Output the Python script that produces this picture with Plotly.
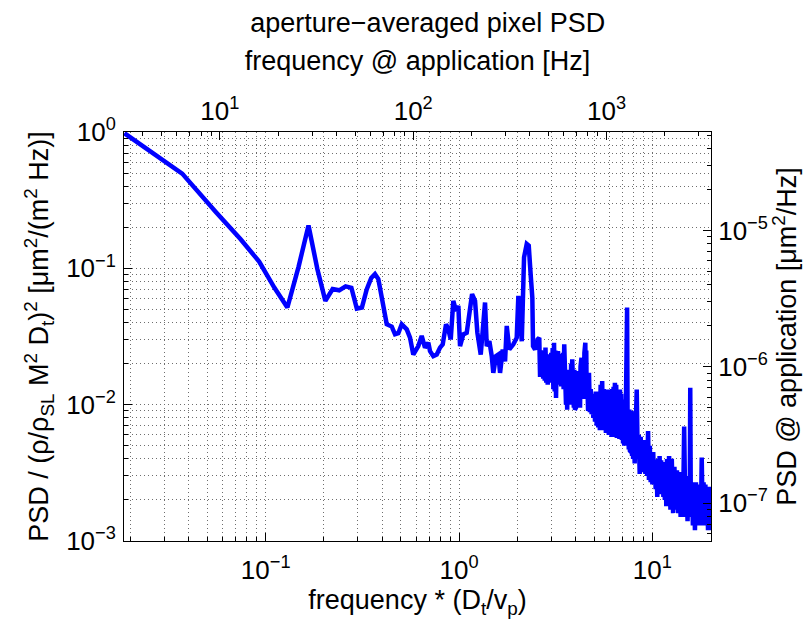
import math
import plotly.graph_objects as go

# ---- data (normalised frequency, normalised PSD) ----
freq_low = [
    0.0186, 0.037, 0.0555, 0.074, 0.0925, 0.111, 0.1295, 0.148, 0.1665, 0.185,
    0.2035, 0.222, 0.24, 0.259, 0.2775, 0.296, 0.3145, 0.333, 0.3515, 0.3675,
    0.3825, 0.398, 0.4227, 0.4487, 0.4667, 0.4853, 0.5053, 0.5364, 0.5578, 0.58,
    0.6158, 0.641, 0.6668, 0.6938, 0.7079, 0.7363, 0.7668, 0.7976, 0.8235, 0.8564,
    0.880, 0.906, 0.934, 0.965, 0.992, 1.012, 1.052, 1.096, 1.131, 1.168,
    1.21, 1.244, 1.295, 1.326, 1.363, 1.391, 1.435, 1.476, 1.504, 1.554,
    1.597, 1.630, 1.683, 1.73, 1.765, 1.82, 1.909, 1.988, 2.027, 2.111,
    2.169, 2.24, 2.294, 2.349, 2.394, 2.414, 2.473, 2.55,
]
psd_low = [
    0.98, 0.495, 0.257, 0.164, 0.112, 0.072, 0.0516, 0.103, 0.206, 0.099,
    0.0577, 0.0704, 0.069, 0.0737, 0.072, 0.0507, 0.0516, 0.070, 0.085, 0.0908,
    0.0834, 0.0628, 0.0389, 0.0374, 0.0328, 0.0334, 0.0389, 0.0357, 0.031, 0.0233,
    0.0269, 0.0319, 0.0262, 0.0285, 0.0247, 0.0227, 0.0233, 0.0262, 0.0277, 0.0389,
    0.0357, 0.0301, 0.0577, 0.0487, 0.053, 0.0269, 0.0328, 0.0337, 0.0487, 0.0647,
    0.0577, 0.0337, 0.0233, 0.040, 0.0561, 0.0269, 0.0292, 0.0227, 0.0171, 0.0227,
    0.0233, 0.0171, 0.0254, 0.0208, 0.0378, 0.0254, 0.0277, 0.031, 0.0628, 0.0292,
    0.1205, 0.151, 0.1468, 0.0882, 0.0611, 0.0269, 0.0254, 0.0301,
]
# dense, noisy band 2.6 - 4.6
freq_band1 = [
    2.600, 2.625, 2.650, 2.675, 2.700, 2.725, 2.750, 2.775, 2.800, 2.825,
    2.850, 2.875, 2.900, 2.925, 2.950, 2.975, 3.000, 3.025, 3.050, 3.075,
    3.100, 3.125, 3.150, 3.175, 3.200, 3.225, 3.250, 3.275, 3.300, 3.325,
    3.350, 3.375, 3.400, 3.425, 3.450, 3.475, 3.500, 3.525, 3.550, 3.575,
    3.600, 3.625, 3.650, 3.675, 3.700, 3.725, 3.750, 3.775, 3.800, 3.825,
    3.850, 3.875, 3.900, 3.925, 3.950, 3.975, 4.000, 4.025, 4.050, 4.075,
    4.100, 4.125, 4.150, 4.175, 4.200, 4.225, 4.250, 4.275, 4.300, 4.325,
    4.350, 4.375, 4.400, 4.425, 4.450, 4.475, 4.500, 4.525, 4.550, 4.575,
    4.600,
]
psd_band1 = [
    0.0310, 0.0160, 0.0250, 0.0162, 0.0245, 0.0155, 0.0240, 0.0150, 0.0262, 0.0145,
    0.0230, 0.0140, 0.0234, 0.0150, 0.0225, 0.0145, 0.0240, 0.0145, 0.0260, 0.0130,
    0.0285, 0.0125, 0.0250, 0.0112, 0.0230, 0.0140, 0.0247, 0.0150, 0.0235, 0.0140,
    0.0230, 0.0136, 0.0225, 0.0140, 0.0240, 0.0130, 0.0277, 0.0120, 0.0230, 0.0100,
    0.0180, 0.0092, 0.0180, 0.0110, 0.0171, 0.0100, 0.0171, 0.0110, 0.0200, 0.0105,
    0.0215, 0.0110, 0.0190, 0.0095, 0.0180, 0.0092, 0.0171, 0.0095, 0.0171, 0.0100,
    0.0175, 0.0095, 0.0165, 0.0098, 0.0170, 0.0095, 0.0190, 0.0110, 0.0221, 0.0110,
    0.0221, 0.0120, 0.0200, 0.0110, 0.0240, 0.0115, 0.0285, 0.0110, 0.0250, 0.0110,
    0.0171,
]
# dense, noisy band 4.65 - 8.0
freq_band2 = [
    4.65, 4.70, 4.75, 4.80, 4.85, 4.90, 4.95, 5.00, 5.05, 5.10,
    5.15, 5.20, 5.25, 5.30, 5.35, 5.40, 5.45, 5.50, 5.55, 5.60,
    5.65, 5.70, 5.75, 5.80, 5.85, 5.90, 5.95, 6.00, 6.05, 6.10,
    6.15, 6.20, 6.25, 6.30, 6.35, 6.40, 6.45, 6.50, 6.55, 6.60,
    6.65, 6.70, 6.75, 6.80, 6.85, 6.90, 6.95, 7.00, 7.05, 7.10,
    7.15, 7.20, 7.25, 7.30, 7.35, 7.40, 7.45, 7.50, 7.55, 7.60,
    7.65, 7.70, 7.75, 7.80, 7.85, 7.90, 7.95, 8.00,
]
psd_band2 = [
    0.0090, 0.0171, 0.0088, 0.0130, 0.0085, 0.0115, 0.0080, 0.0120, 0.0075, 0.0125,
    0.0070, 0.0125, 0.0068, 0.0125, 0.0065, 0.0140, 0.0066, 0.0149, 0.0065, 0.0130,
    0.0068, 0.0125, 0.0062, 0.0120, 0.0065, 0.0129, 0.0060, 0.0125, 0.0062, 0.0120,
    0.0058, 0.0130, 0.0060, 0.0135, 0.0058, 0.0145, 0.0060, 0.0140, 0.0057, 0.0120,
    0.0058, 0.0125, 0.0056, 0.0129, 0.0058, 0.0120, 0.0055, 0.0105, 0.0052, 0.0100,
    0.0050, 0.0109, 0.0050, 0.0105, 0.0060, 0.0516, 0.0060, 0.0090, 0.0047, 0.0092,
    0.0046, 0.0088, 0.0045, 0.0090, 0.0042, 0.0085, 0.0040, 0.0080,
]
# dense, noisy band 8.1 - 12.0
freq_band3 = [
    8.1, 8.2, 8.3, 8.4, 8.5, 8.6, 8.7, 8.8, 8.9, 9.0,
    9.1, 9.2, 9.3, 9.4, 9.5, 9.6, 9.7, 9.8, 9.9, 10.0,
    10.1, 10.2, 10.3, 10.4, 10.5, 10.6, 10.7, 10.8, 10.9, 11.0,
    11.1, 11.2, 11.3, 11.4, 11.5, 11.6, 11.7, 11.8, 11.9, 12.0,
]
psd_band3 = [
    0.0037, 0.0065, 0.0129, 0.0040, 0.0060, 0.0031, 0.0058, 0.0032, 0.0055, 0.0032,
    0.0052, 0.0031, 0.0055, 0.0030, 0.0064, 0.0028, 0.0050, 0.0027, 0.0045, 0.0026,
    0.0045, 0.0026, 0.0039, 0.0024, 0.0039, 0.0021, 0.0040, 0.0022, 0.0042, 0.0022,
    0.0039, 0.0023, 0.0038, 0.0021, 0.0037, 0.0020, 0.0037, 0.0018, 0.0040, 0.0019,
]
# dense, noisy band 12.2 - 20.0
freq_band4 = [
    12.2, 12.4, 12.6, 12.8, 13.0, 13.2, 13.4, 13.6, 13.8, 14.0,
    14.2, 14.4, 14.6, 14.8, 15.0, 15.2, 15.4, 15.6, 15.7, 15.8,
    16.0, 16.2, 16.4, 16.6, 16.8, 17.0, 17.2, 17.4, 17.6, 17.8,
    18.0, 18.2, 18.4, 18.6, 18.8, 19.0, 19.2, 19.4, 19.6, 19.8,
    20.0,
]
psd_band4 = [
    0.0042, 0.0017, 0.0040, 0.0016, 0.0035, 0.0017, 0.0033, 0.0016, 0.0032, 0.0015,
    0.0030, 0.0015, 0.0069, 0.0016, 0.0030, 0.0014, 0.0028, 0.0015, 0.0133, 0.0020,
    0.0027, 0.0013, 0.0027, 0.0012, 0.0027, 0.0013, 0.0026, 0.0013, 0.0025, 0.0013,
    0.0041, 0.0014, 0.0027, 0.0013, 0.0026, 0.0013, 0.0025, 0.0012, 0.0025, 0.0012,
    0.0018,
]

freq = freq_low + freq_band1 + freq_band2 + freq_band3 + freq_band4
psd = psd_low + psd_band1 + psd_band2 + psd_band3 + psd_band4

# conversion to the application units (secondary axes)
freq_scale = 172.6      # Hz per normalised frequency unit (v_p / D_t)
psd_scale = 5.28e-5     # um^2/Hz per normalised PSD unit

x_range = [0.0185, 20.1]
y_range = [1e-3, 1.0]

# tick labels
x_major = [0.1, 1, 10]
x_major_text = ["10<sup>−1</sup>", "10<sup>0</sup>", "10<sup>1</sup>"]
y_major = [1e-3, 1e-2, 1e-1, 1]
y_major_text = ["10<sup>−3</sup>", "10<sup>−2</sup>", "10<sup>−1</sup>", "10<sup>0</sup>"]
x2_major = [10, 100, 1000]
x2_major_text = ["10<sup>1</sup>", "10<sup>2</sup>", "10<sup>3</sup>"]
y2_major = [1e-7, 1e-6, 1e-5]
y2_major_text = ["10<sup>−7</sup>", "10<sup>−6</sup>", "10<sup>−5</sup>"]


def minor_vals(lo, hi):
    vals = []
    e0 = math.floor(math.log10(lo)) - 1
    e1 = math.ceil(math.log10(hi)) + 1
    for e in range(e0, e1):
        for m in range(2, 10):
            v = m * 10 ** e
            if lo <= v <= hi:
                vals.append(v)
    return vals


lg = math.log10
x2_range = [x_range[0] * freq_scale, x_range[1] * freq_scale]
y2_range = [y_range[0] * psd_scale, y_range[1] * psd_scale]

FONT = "Liberation Sans"
TICKFONT = dict(family=FONT, size=26, color="black")
TITLEFONT = dict(family=FONT, size=27, color="black")
GRID = dict(gridcolor="#6e6e6e", griddash="1px,3px", gridwidth=1)

fig = go.Figure()
fig.add_trace(go.Scatter(
    x=freq, y=psd, mode="lines",
    line=dict(color="#0000ff", width=4.5),
    xaxis="x", yaxis="y", showlegend=False, hoverinfo="skip",
))
fig.add_trace(go.Scatter(
    x=[f * freq_scale for f in freq], y=[p * psd_scale for p in psd],
    mode="lines", line=dict(color="rgba(0,0,0,0)", width=0),
    xaxis="x2", yaxis="y2", showlegend=False, hoverinfo="skip",
))

fig.update_layout(
    width=807, height=634,
    margin=dict(l=124, r=96, t=132, b=93),
    paper_bgcolor="white", plot_bgcolor="white",
    title=dict(text="aperture−averaged pixel PSD", font=TITLEFONT,
               x=0.5175, xanchor="center", xref="paper",
               y=1 - 23 / 634, yanchor="middle", yref="container"),
    xaxis=dict(
        type="log", range=[lg(x_range[0]), lg(x_range[1])],
        tickmode="array", tickvals=x_major, ticktext=x_major_text,
        ticks="inside", ticklen=8, tickcolor="black", tickwidth=1,
        tickfont=TICKFONT, ticklabelstandoff=6,
        showgrid=True, **GRID,
        minor=dict(tickmode="array", tickvals=minor_vals(*x_range),
                   ticks="inside", ticklen=4, tickcolor="black",
                   showgrid=True, **GRID),
        showline=True, linecolor="black", linewidth=1, zeroline=False,
        title=dict(text="frequency * (D<sub>t</sub>/v<sub>p</sub>)",
                   font=TITLEFONT, standoff=0),
    ),
    yaxis=dict(
        type="log", range=[lg(y_range[0]), lg(y_range[1])],
        tickmode="array", tickvals=y_major, ticktext=y_major_text,
        ticks="inside", ticklen=8, tickcolor="black", tickwidth=1,
        tickfont=TICKFONT, ticklabelstandoff=2,
        showgrid=True, **GRID,
        minor=dict(tickmode="array", tickvals=minor_vals(*y_range),
                   ticks="inside", ticklen=4, tickcolor="black",
                   showgrid=True, **GRID),
        showline=True, linecolor="black", linewidth=1, zeroline=False,
        title=dict(text="PSD / (ρ/ρ<sub>SL</sub> M<sup>2</sup> D<sub>t</sub>)<sup>2</sup>"
                        " [μm<sup>2</sup>/(m<sup>2</sup> Hz)]",
                   font=TITLEFONT, standoff=9),
    ),
    xaxis2=dict(
        type="log", range=[lg(x2_range[0]), lg(x2_range[1])],
        overlaying="x", side="top", anchor="y",
        tickmode="array", tickvals=x2_major, ticktext=x2_major_text,
        ticks="inside", ticklen=8, tickcolor="black", tickwidth=1,
        tickfont=TICKFONT, ticklabelstandoff=1,
        showgrid=False,
        minor=dict(tickmode="array", tickvals=minor_vals(*x2_range),
                   ticks="inside", ticklen=4, tickcolor="black", showgrid=False),
        showline=True, linecolor="black", linewidth=1, zeroline=False,
        title=dict(text="frequency @ application [Hz]", font=TITLEFONT, standoff=14),
    ),
    yaxis2=dict(
        type="log", range=[lg(y2_range[0]), lg(y2_range[1])],
        overlaying="y", side="right", anchor="x",
        tickmode="array", tickvals=y2_major, ticktext=y2_major_text,
        ticks="inside", ticklen=8, tickcolor="black", tickwidth=1,
        tickfont=TICKFONT, ticklabelstandoff=1,
        showgrid=False,
        minor=dict(tickmode="array", tickvals=minor_vals(*y2_range),
                   ticks="inside", ticklen=4, tickcolor="black", showgrid=False),
        showline=True, linecolor="black", linewidth=1, zeroline=False,
        title=dict(text="PSD @ application [μm<sup>2</sup>/Hz]", font=TITLEFONT, standoff=4),
    ),
)

fig.write_html("out.html")
